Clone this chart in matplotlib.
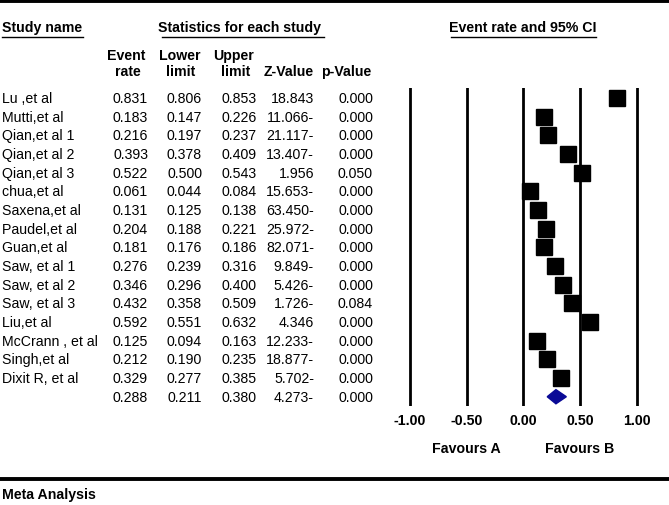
import matplotlib
matplotlib.use("Agg")
import matplotlib.pyplot as plt
from matplotlib.patches import Polygon

plt.rcParams['font.family'] = ['Liberation Sans', 'DejaVu Sans']

studies = ["Lu ,et al", "Mutti,et al", "Qian,et al 1", "Qian,et al 2", "Qian,et al 3",
           "chua,et al", "Saxena,et al", "Paudel,et al", "Guan,et al", "Saw, et al 1",
           "Saw, et al 2", "Saw, et al 3", "Liu,et al", "McCrann , et al", "Singh,et al",
           "Dixit R, et al"]
event_rate = [0.831, 0.183, 0.216, 0.393, 0.522, 0.061, 0.131, 0.204, 0.181, 0.276,
              0.346, 0.432, 0.592, 0.125, 0.212, 0.329]
lower = [0.806, 0.147, 0.197, 0.378, 0.500, 0.044, 0.125, 0.188, 0.176, 0.239,
         0.296, 0.358, 0.551, 0.094, 0.190, 0.277]
upper = [0.853, 0.226, 0.237, 0.409, 0.543, 0.084, 0.138, 0.221, 0.186, 0.316,
         0.400, 0.509, 0.632, 0.163, 0.235, 0.385]
z_value = ["18.843", "11.066-", "21.117-", "13.407-", "1.956", "15.653-", "63.450-",
           "25.972-", "82.071-", "9.849-", "5.426-", "1.726-", "4.346", "12.233-",
           "18.877-", "5.702-"]
p_value = ["0.000", "0.000", "0.000", "0.000", "0.050", "0.000", "0.000", "0.000",
           "0.000", "0.000", "0.000", "0.084", "0.000", "0.000", "0.000", "0.000"]
summary = {"rate": 0.288, "lower": 0.211, "upper": 0.380, "z": "4.273-", "p": "0.000"}
grid_ticks = [-1.0, -0.5, 0.0, 0.5, 1.0]
tick_labels = ["-1.00", "-0.50", "0.00", "0.50", "1.00"]

W, H = 669, 506
fig = plt.figure(figsize=(W / 100, H / 100), dpi=100)

bg = fig.add_axes([0, 0, 1, 1])
bg.set_xlim(0, W)
bg.set_ylim(H, 0)
bg.axis('off')

row0, dy = 99.0, 18.67
fs = 10.2
fsb = 10.2

def rowy(i):
    return row0 + i * dy

bg.plot([0, W], [2, 2], color='black', lw=2.8, solid_capstyle='butt')
bg.plot([0, W], [480, 480], color='black', lw=2.8, solid_capstyle='butt')

bg.text(2, 28, "Study name", fontsize=fsb, fontweight='bold', ha='left', va='center')
bg.plot([2, 83], [37.5, 37.5], color='black', lw=1)
bg.text(240, 28, "Statistics for each study", fontsize=fsb, fontweight='bold', ha='center', va='center')
bg.plot([162, 324], [37.5, 37.5], color='black', lw=1)
bg.text(523, 28, "Event rate and 95% CI", fontsize=fsb, fontweight='bold', ha='center', va='center')
bg.plot([451, 596], [37.5, 37.5], color='black', lw=1)

bg.text(126, 56, "Event", fontsize=fsb, fontweight='bold', ha='center', va='center')
bg.text(128, 72, "rate", fontsize=fsb, fontweight='bold', ha='center', va='center')
bg.text(180, 56, "Lower", fontsize=fsb, fontweight='bold', ha='center', va='center')
bg.text(181, 72, "limit", fontsize=fsb, fontweight='bold', ha='center', va='center')
bg.text(233, 56, "Upper", fontsize=fsb, fontweight='bold', ha='center', va='center')
bg.text(236, 72, "limit", fontsize=fsb, fontweight='bold', ha='center', va='center')
bg.text(289, 72, "Z-Value", fontsize=fsb, fontweight='bold', ha='center', va='center')
bg.text(346, 72, "p-Value", fontsize=fsb, fontweight='bold', ha='center', va='center')

cols_x = [148, 202, 257, 314, 373]
for i, name in enumerate(studies):
    y = rowy(i)
    bg.text(2, y, name, fontsize=fs, ha='left', va='center')
    vals = [f"{event_rate[i]:.3f}", f"{lower[i]:.3f}", f"{upper[i]:.3f}", z_value[i], p_value[i]]
    for x, v in zip(cols_x, vals):
        bg.text(x, y, v, fontsize=fs, ha='right', va='center')

ys = rowy(len(studies))
svals = [f"{summary['rate']:.3f}", f"{summary['lower']:.3f}", f"{summary['upper']:.3f}", summary['z'], summary['p']]
for x, v in zip(cols_x, svals):
    bg.text(x, ys, v, fontsize=fs, ha='right', va='center')

bg.text(2, 495, "Meta Analysis", fontsize=fsb, fontweight='bold', ha='left', va='center')

ppu = 113.3
x_left, x_right = 395, 652
top_px, bot_px = 89, 407
ax = fig.add_axes([x_left / W, 1 - bot_px / H, (x_right - x_left) / W, (bot_px - top_px) / H])
ax.set_xlim(-1 - (410 - x_left) / ppu, -1 + (x_right - 410) / ppu)
ax.set_ylim((bot_px - row0) / dy, (top_px - row0) / dy)
ax.axis('off')
ax.patch.set_alpha(0)

for t in grid_ticks:
    ax.axvline(t, color='black', lw=2.0)

rows = list(range(len(studies)))
ax.hlines(rows, lower, upper, color='black', lw=1.6)
ax.plot(event_rate, rows, linestyle='none', marker='s', markersize=11.2,
        markerfacecolor='black', markeredgecolor='black')

n = len(studies)
h = 0.38
diamond = Polygon([(summary['lower'], n), (summary['rate'], n - h),
                   (summary['upper'], n), (summary['rate'], n + h)],
                  closed=True, facecolor='#0a0a96', edgecolor='#0a0a96')
ax.add_patch(diamond)

for t, lab in zip(grid_ticks, tick_labels):
    ax.annotate(lab, xy=(t, 0), xycoords=('data', 'axes fraction'), xytext=(0, -14),
                textcoords='offset pixels', ha='center', va='center',
                fontsize=fsb, fontweight='bold')
ax.annotate("Favours A", xy=(-0.5, 0), xycoords=('data', 'axes fraction'), xytext=(0, -42),
            textcoords='offset pixels', ha='center', va='center', fontsize=fsb, fontweight='bold')
ax.annotate("Favours B", xy=(0.5, 0), xycoords=('data', 'axes fraction'), xytext=(0, -42),
            textcoords='offset pixels', ha='center', va='center', fontsize=fsb, fontweight='bold')

fig.savefig("out.png", dpi=100)
